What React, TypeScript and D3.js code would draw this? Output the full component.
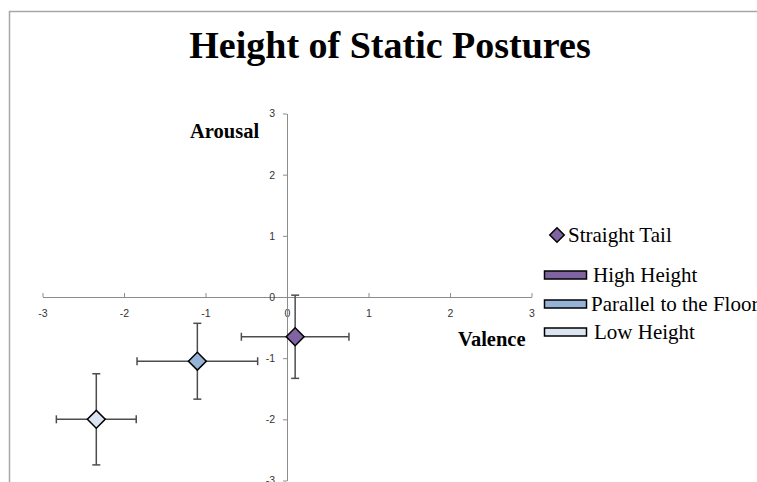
import React, { useEffect, useRef } from "react";
import * as d3 from "d3";

// Data
const categories = ["High Height", "Parallel to the Floor", "Low Height"];
const valence = [0.1, -1.1, -2.34];
const arousal = [-0.65, -1.05, -2.0];
const valenceErr = [0.66, 0.74, 0.49];
const arousalErr = [0.68, 0.62, 0.745];
const fills = ["#8064A2", "#95B3D7", "#DBE5F1"];
const axisTicks = [-3, -2, -1, 0, 1, 2, 3];
const seriesName = "Straight Tail";

const W = 757;
const H = 482;

function App() {
  const svgRef = useRef<SVGSVGElement>(null);

  useEffect(() => {
    const svg = d3.select(svgRef.current);
    svg.selectAll("*").remove();

    const x = d3.scaleLinear().domain([-3, 3]).range([42.5, 531.5]);
    const y = d3.scaleLinear().domain([-3, 3]).range([480.5, 113.5]);

    // chart frame (runs off the right and bottom)
    svg
      .append("rect")
      .attr("x", 9.5)
      .attr("y", 11.5)
      .attr("width", 800)
      .attr("height", 520)
      .attr("fill", "#fff")
      .attr("stroke", "#a6a6a6")
      .attr("stroke-width", 1.5);

    // title
    svg
      .append("text")
      .attr("x", 390)
      .attr("y", 58)
      .attr("text-anchor", "middle")
      .style("font-family", "'Liberation Serif', 'Times New Roman', serif")
      .style("font-weight", "bold")
      .style("font-size", "38px")
      .text("Height of Static Postures");

    // axes crossing at zero
    const fmt = (d: any) => String(d);
    const xAxis = d3
      .axisBottom(x)
      .tickValues(axisTicks)
      .tickFormat(fmt)
      .tickSizeInner(-4)
      .tickSizeOuter(0)
      .tickPadding(13);
    const yAxis = d3
      .axisLeft(y)
      .tickValues(axisTicks)
      .tickFormat(fmt)
      .tickSizeInner(4)
      .tickSizeOuter(0)
      .tickPadding(8);

    const gx = svg.append("g").attr("transform", `translate(0,${y(0)})`).call(xAxis);
    const gy = svg.append("g").attr("transform", `translate(${x(0)},0)`).call(yAxis);
    [gx, gy].forEach((g) => {
      g.selectAll("path, line").attr("stroke", "#8c8c8c");
      g.selectAll("text")
        .attr("fill", "#333")
        .style("font-family", "'Liberation Sans', Arial, sans-serif")
        .style("font-size", "10.5px");
    });

    // axis titles
    const boldLabel = (tx: number, ty: number, s: string) =>
      svg
        .append("text")
        .attr("x", tx)
        .attr("y", ty)
        .style("font-family", "'Liberation Serif', 'Times New Roman', serif")
        .style("font-weight", "bold")
        .style("font-size", "20.5px")
        .text(s);
    boldLabel(190, 138, "Arousal");
    boldLabel(458, 346, "Valence");

    // error bars
    const cap = 4;
    const bars = svg.append("g").attr("stroke", "#4d4d4d").attr("stroke-width", 1.5).attr("fill", "none");
    categories.forEach((_, i) => {
      const cx = x(valence[i]);
      const cy = y(arousal[i]);
      const x0 = x(valence[i] - valenceErr[i]);
      const x1 = x(valence[i] + valenceErr[i]);
      const y0 = y(arousal[i] + arousalErr[i]);
      const y1 = y(arousal[i] - arousalErr[i]);
      bars.append("line").attr("x1", x0).attr("x2", x1).attr("y1", cy).attr("y2", cy);
      bars.append("line").attr("x1", x0).attr("x2", x0).attr("y1", cy - cap).attr("y2", cy + cap);
      bars.append("line").attr("x1", x1).attr("x2", x1).attr("y1", cy - cap).attr("y2", cy + cap);
      bars.append("line").attr("x1", cx).attr("x2", cx).attr("y1", y0).attr("y2", y1);
      bars.append("line").attr("x1", cx - cap).attr("x2", cx + cap).attr("y1", y0).attr("y2", y0);
      bars.append("line").attr("x1", cx - cap).attr("x2", cx + cap).attr("y1", y1).attr("y2", y1);
    });

    // diamond markers
    const diamond = d3.symbol(d3.symbolSquare, 160);
    svg
      .append("g")
      .selectAll("path")
      .data(categories)
      .join("path")
      .attr("d", diamond)
      .attr("transform", (_, i) => `translate(${x(valence[i])},${y(arousal[i])}) rotate(45)`)
      .attr("fill", (_, i) => fills[i])
      .attr("stroke", "#000")
      .attr("stroke-width", 1.5);

    // legend
    const legendFont = "'Liberation Serif', 'Times New Roman', serif";
    const lg = svg.append("g");
    lg.append("path")
      .attr("d", d3.symbol(d3.symbolSquare, 105))
      .attr("transform", "translate(557,235) rotate(45)")
      .attr("fill", fills[0])
      .attr("stroke", "#000")
      .attr("stroke-width", 1.5);
    lg.append("text")
      .attr("x", 568)
      .attr("y", 242)
      .style("font-family", legendFont)
      .style("font-size", "21px")
      .text(seriesName);

    const rows = [275, 304, 332];
    const textX = [593, 591, 594];
    categories.forEach((c, i) => {
      lg.append("rect")
        .attr("x", 544.5)
        .attr("y", rows[i] - 4)
        .attr("width", 42)
        .attr("height", 8)
        .attr("fill", fills[i])
        .attr("stroke", "#000")
        .attr("stroke-width", 1.5);
      lg.append("text")
        .attr("x", textX[i])
        .attr("y", rows[i] + 7)
        .style("font-family", legendFont)
        .style("font-size", "21px")
        .text(c);
    });
  }, []);

  return (
    <svg
      ref={svgRef}
      width={W}
      height={H}
      style={{ position: "absolute", left: 0, top: 0, background: "#fff" }}
    />
  );
}

export default App;
